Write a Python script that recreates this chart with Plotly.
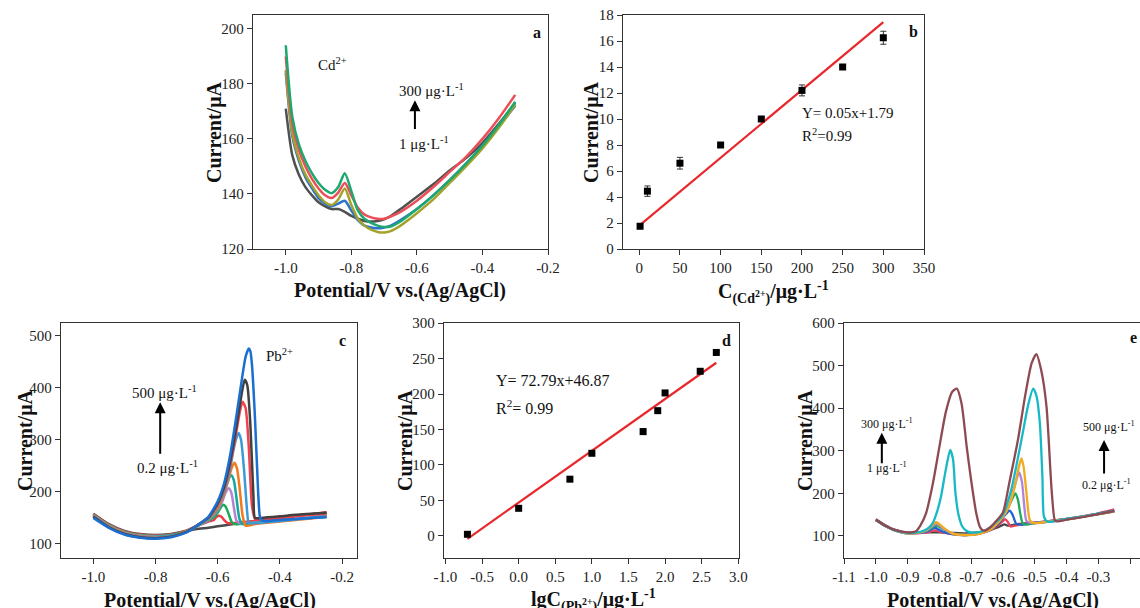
import plotly.graph_objects as go

W, H = 1140, 608
FONT = "Liberation Serif, Times New Roman, serif"

# ---------- panel a: Cd2+ curves ----------
a_x = [-1.0, -0.98, -0.96, -0.94, -0.92, -0.90, -0.88, -0.86, -0.84, -0.82, -0.80, -0.78, -0.76,
       -0.74, -0.72, -0.70, -0.68, -0.65, -0.60, -0.55, -0.50, -0.45, -0.40, -0.35, -0.30]
a_grey = [171, 154, 147, 142.5, 139.5, 137, 135.5, 134.5, 134.5, 133.5, 132, 131, 130.2,
          130, 130.2, 130.8, 132, 134.5, 139, 143.5, 148.5, 153, 158.5, 165.5, 173]
a_blue = [184, 161, 152, 146, 142, 138.5, 136.5, 135.5, 136.5, 137.5, 134, 130.5, 128.5,
          127.8, 127.5, 127.8, 128.5, 130.5, 134.5, 139.5, 145, 151, 157.5, 164.5, 172]
a_olive = [185, 162, 153, 147, 143, 139.5, 137, 136, 138, 142, 136, 131, 128.5,
           127, 126.2, 126, 126.5, 128.5, 133, 138, 144, 150, 156.5, 164, 172.5]
a_red = [190, 165.5, 156, 150, 145.5, 142, 139.5, 138.5, 140.5, 144, 139.5, 135, 132.5,
         131.5, 131, 131, 131.8, 133.5, 137.5, 142.5, 148, 153.5, 160, 167.5, 176]
a_green = [194, 168, 158, 152, 147.5, 144, 141.5, 140.3, 142.5, 147.5, 141, 134, 131,
           129.5, 128.5, 128, 128.2, 130, 134.5, 139.5, 145, 151, 157.5, 165, 173.5]
a_series = [a_grey, a_blue, a_olive, a_red, a_green]
a_colors = ["#505050", "#2a74cc", "#a3a32c", "#ea4f58", "#1ca86e"]

# ---------- panel b: Cd2+ calibration ----------
b_conc = [1, 10, 50, 100, 150, 200, 250, 300]
b_curr = [1.75, 4.45, 6.6, 8.0, 10.0, 12.2, 14.0, 16.25]
b_err = [0.1, 0.4, 0.45, 0.1, 0.1, 0.42, 0.1, 0.5]
b_fit_x = [0, 300]
b_fit_y = [1.8, 17.45]

# ---------- panel c: Pb2+ curves ----------
c_left_x = [-1.0, -0.95, -0.9, -0.85, -0.8, -0.75, -0.7, -0.66, -0.63]
c_left_y = [
    [158, 138, 125, 119, 117, 119, 125, 129, 131],
    [157, 137, 124, 118, 116, 118, 126, 136, 143],
    [156, 136, 123, 117, 115, 117, 125, 136, 145],
    [155, 135, 122, 116, 114, 116, 124, 136, 146],
    [154, 134, 121, 115, 113, 116, 124, 137, 147],
    [154, 134, 121, 115, 113, 115, 124, 137, 148],
    [153, 133, 120, 114, 112, 115, 123, 137, 149],
    [152, 132, 119, 113, 111, 114, 123, 138, 150],
    [152, 132, 119, 113, 111, 114, 123, 138, 151],
    [150, 131, 118, 112, 110, 113, 122, 138, 152],
]
c_right_x = [
    [-0.6, -0.55, -0.5, -0.45, -0.4, -0.35, -0.3, -0.25],
    [-0.615, -0.605, -0.597, -0.588, -0.578, -0.568, -0.5, -0.4, -0.3, -0.25],
    [-0.61, -0.6, -0.59, -0.583, -0.575, -0.565, -0.555, -0.545, -0.5, -0.4, -0.3, -0.25],
    [-0.6, -0.585, -0.575, -0.564, -0.556, -0.548, -0.54, -0.53, -0.48, -0.4, -0.3, -0.25],
    [-0.6, -0.585, -0.57, -0.562, -0.556, -0.548, -0.54, -0.53, -0.52, -0.48, -0.4, -0.3, -0.25],
    [-0.6, -0.58, -0.565, -0.555, -0.546, -0.538, -0.53, -0.52, -0.51, -0.48, -0.4, -0.3, -0.25],
    [-0.6, -0.58, -0.56, -0.55, -0.54, -0.533, -0.525, -0.515, -0.505, -0.5, -0.48, -0.4, -0.35, -0.3, -0.25],
    [-0.6, -0.58, -0.56, -0.54, -0.53, -0.52, -0.51, -0.5, -0.49, -0.48, -0.46, -0.4, -0.35, -0.3, -0.25],
    [-0.6, -0.58, -0.56, -0.54, -0.53, -0.52, -0.513, -0.505, -0.495, -0.485, -0.48, -0.46, -0.4, -0.35, -0.3, -0.25],
    [-0.6, -0.58, -0.56, -0.54, -0.52, -0.51, -0.5, -0.495, -0.49, -0.48, -0.47, -0.465, -0.46, -0.44, -0.4, -0.35, -0.3, -0.25],
]
c_right_y = [
    [134, 138, 142, 146, 150, 154, 157, 160],
    [145, 151, 154, 152, 145, 140, 143, 149, 157, 161],
    [152, 160, 170, 175, 172, 158, 142, 138, 140, 145, 151, 154],
    [165, 182, 198, 207, 198, 170, 145, 140, 141, 145, 151, 154],
    [168, 188, 215, 228, 232, 222, 190, 148, 138, 140, 145, 150, 153],
    [170, 195, 225, 246, 256, 245, 210, 155, 135, 138, 143, 149, 152],
    [174, 200, 245, 278, 303, 313, 300, 240, 160, 140, 140, 144, 147, 150, 152],
    [176, 205, 252, 315, 350, 373, 360, 285, 175, 148, 148, 151, 154, 156, 158],
    [178, 208, 258, 325, 362, 398, 415, 405, 330, 190, 150, 150, 153, 156, 158, 160],
    [182, 215, 270, 345, 425, 460, 475, 470, 445, 340, 200, 155, 146, 144, 146, 148, 150, 151],
]
c_colors = ["#4a4a4a", "#ee3c46", "#1caa5c", "#b283d4", "#12a89e", "#f27a1e",
            "#3c9ad8", "#f0424c", "#404040", "#1a6fd0"]

# ---------- panel d: Pb2+ calibration ----------
d_lgc = [-0.7, 0.0, 0.7, 1.0, 1.7, 1.9, 2.0, 2.48, 2.7]
d_curr = [2.4, 39, 80, 116.5, 147, 176.5, 201.5, 232, 258.5]
d_err = [2, 2, 2, 2, 4, 2, 2, 2, 2]
d_fit_x = [-0.7, 2.7]
d_fit_y = [-4, 244]

# ---------- panel e: simultaneous Cd2+ / Pb2+ ----------
e_x = [
    [-1.0, -0.97, -0.94, -0.9, -0.87, -0.84, -0.8, -0.76, -0.72, -0.68, -0.64, -0.62, -0.605, -0.595,
     -0.585, -0.55, -0.5, -0.45, -0.4, -0.35, -0.3, -0.25],
    [-1.0, -0.97, -0.94, -0.9, -0.87, -0.84, -0.815, -0.79, -0.76, -0.72, -0.68, -0.64, -0.61, -0.593,
     -0.585, -0.576, -0.55, -0.5, -0.45, -0.4, -0.35, -0.3, -0.25],
    [-1.0, -0.97, -0.94, -0.9, -0.87, -0.84, -0.815, -0.79, -0.76, -0.72, -0.68, -0.64, -0.61, -0.595,
     -0.579, -0.57, -0.558, -0.54, -0.5, -0.45, -0.4, -0.35, -0.3, -0.25],
    [-1.0, -0.97, -0.94, -0.9, -0.87, -0.84, -0.81, -0.785, -0.76, -0.72, -0.68, -0.64, -0.62, -0.6,
     -0.58, -0.561, -0.553, -0.545, -0.537, -0.52, -0.5, -0.45, -0.4, -0.35, -0.3, -0.25],
    [-1.0, -0.97, -0.94, -0.9, -0.87, -0.84, -0.81, -0.785, -0.76, -0.72, -0.68, -0.64, -0.62, -0.6,
     -0.58, -0.565, -0.549, -0.54, -0.533, -0.526, -0.51, -0.45, -0.4, -0.35, -0.3, -0.25],
    [-1.0, -0.97, -0.94, -0.9, -0.87, -0.84, -0.81, -0.785, -0.76, -0.72, -0.68, -0.64, -0.62, -0.6,
     -0.58, -0.565, -0.55, -0.542, -0.535, -0.526, -0.516, -0.505, -0.45, -0.4, -0.35, -0.3, -0.25],
    [-1.0, -0.97, -0.94, -0.9, -0.87, -0.85, -0.835, -0.821, -0.808, -0.795, -0.78, -0.766, -0.757,
     -0.75, -0.74, -0.728, -0.715, -0.7, -0.68, -0.66, -0.64, -0.62, -0.6, -0.574, -0.542, -0.52,
     -0.505, -0.495, -0.484, -0.476, -0.471, -0.46, -0.4, -0.35, -0.3, -0.25],
    [-1.0, -0.97, -0.94, -0.9, -0.875, -0.86, -0.842, -0.82, -0.8, -0.78, -0.76, -0.745, -0.73,
     -0.714, -0.7, -0.684, -0.672, -0.66, -0.637, -0.62, -0.6, -0.58, -0.553, -0.53, -0.51, -0.495,
     -0.48, -0.463, -0.447, -0.437, -0.43, -0.4, -0.35, -0.3, -0.25],
]
e_y = [
    [139, 125, 114, 107, 107, 108, 108, 107, 106, 108, 114, 119, 124, 127,
     124, 128, 131, 135, 140, 145, 151, 158],
    [138, 124, 113, 107, 106, 108, 113, 108, 104, 102, 104, 113, 128, 139,
     133, 122, 126, 131, 135, 140, 146, 153, 162],
    [137, 123, 113, 106, 107, 110, 119, 110, 104, 102, 105, 114, 132, 148,
     159, 150, 128, 126, 130, 134, 139, 145, 152, 159],
    [137, 123, 113, 106, 107, 112, 124, 115, 106, 102, 105, 115, 128, 145,
     172, 200, 185, 150, 128, 127, 130, 134, 139, 145, 151, 158],
    [137, 123, 113, 106, 107, 113, 128, 116, 106, 102, 105, 115, 128, 145,
     172, 212, 249, 225, 170, 135, 130, 134, 139, 145, 151, 157],
    [137, 123, 113, 106, 107, 114, 132, 118, 106, 102, 104, 115, 128, 145,
     172, 210, 262, 282, 262, 200, 138, 130, 134, 139, 145, 151, 157],
    [137, 123, 113, 107, 108, 112, 118, 130, 155, 192, 255, 302, 280,
     205, 150, 122, 112, 108, 108, 112, 120, 133, 150, 208, 325, 410,
     446, 430, 365, 240, 145, 133, 140, 145, 152, 158],
    [138, 124, 114, 108, 110, 124, 153, 225, 309, 390, 438, 446, 410,
     309, 230, 153, 120, 112, 122, 136, 155, 225, 325, 430, 505, 527,
     490, 403, 208, 137, 134, 138, 144, 151, 158],
]
e_colors = ["#454545", "#f2405e", "#2262d2", "#22a862", "#b183da", "#f2aa1e", "#16b9c6", "#8e4a52"]

# ---------- tick labels ----------
pot_ticks_ac = [-1.0, -0.8, -0.6, -0.4, -0.2]
pot_labels_ac = ["-1.0", "-0.8", "-0.6", "-0.4", "-0.2"]
pot_ticks_e = [-1.1, -1.0, -0.9, -0.8, -0.7, -0.6, -0.5, -0.4, -0.3, -0.2]
pot_labels_e = ["-1.1", "-1.0", "-0.9", "-0.8", "-0.7", "-0.6", "-0.5", "-0.4", "-0.3", "-0.2"]
lgc_ticks = [-1.0, -0.5, 0.0, 0.5, 1.0, 1.5, 2.0, 2.5, 3.0]
lgc_labels = ["-1.0", "-0.5", "0.0", "0.5", "1.0", "1.5", "2.0", "2.5", "3.0"]

fig = go.Figure()

for ys, col in zip(a_series, a_colors):
    fig.add_trace(go.Scatter(x=a_x, y=ys, mode="lines", xaxis="x", yaxis="y",
                             line=dict(color=col, width=2.5, shape="spline", smoothing=0.7)))

fig.add_trace(go.Scatter(x=b_fit_x, y=b_fit_y, mode="lines", xaxis="x2", yaxis="y2",
                         line=dict(color="#e8282c", width=2.2)))
fig.add_trace(go.Scatter(x=b_conc, y=b_curr, mode="markers", xaxis="x2", yaxis="y2",
                         marker=dict(symbol="square", size=7, color="black"),
                         error_y=dict(type="data", array=b_err, color="#333", thickness=1, width=3)))

for ly, rx, ry, col in zip(c_left_y, c_right_x, c_right_y, c_colors):
    fig.add_trace(go.Scatter(x=c_left_x + rx, y=ly + ry, mode="lines", xaxis="x3", yaxis="y3",
                             line=dict(color=col, width=2.5, shape="spline", smoothing=0.6)))

fig.add_trace(go.Scatter(x=d_fit_x, y=d_fit_y, mode="lines", xaxis="x4", yaxis="y4",
                         line=dict(color="#e8282c", width=2.2)))
fig.add_trace(go.Scatter(x=d_lgc, y=d_curr, mode="markers", xaxis="x4", yaxis="y4",
                         marker=dict(symbol="square", size=7, color="black"),
                         error_y=dict(type="data", array=d_err, color="#333", thickness=1, width=3)))

for xs, ys, col in zip(e_x, e_y, e_colors):
    fig.add_trace(go.Scatter(x=xs, y=ys, mode="lines", xaxis="x5", yaxis="y5",
                             line=dict(color=col, width=2.3, shape="spline", smoothing=0.6)))


def dx(a, b):
    return [a / W, b / W]


def dy(top, bottom):
    return [1 - bottom / H, 1 - top / H]


axis_style = dict(showline=True, linecolor="#333", linewidth=1.4, mirror=True, ticks="outside",
                  ticklen=5, tickwidth=1.2, tickcolor="#333", showgrid=False, zeroline=False,
                  automargin=False, tickfont=dict(family=FONT, size=15, color="#222"))

fig.update_layout(
    width=W, height=H, margin=dict(l=0, r=0, t=0, b=0, pad=0, autoexpand=False),
    paper_bgcolor="white", plot_bgcolor="white", showlegend=False,
    font=dict(family=FONT),
    xaxis=dict(axis_style, domain=dx(253, 548), range=[-1.1, -0.2], anchor="y",
               tickvals=pot_ticks_ac, ticktext=pot_labels_ac),
    yaxis=dict(axis_style, domain=dy(15, 249), range=[120, 205], anchor="x", dtick=20),
    xaxis2=dict(axis_style, domain=dx(623, 924), range=[-20, 350], anchor="y2", dtick=50),
    yaxis2=dict(axis_style, domain=dy(15, 249), range=[0, 18], anchor="x2", dtick=2),
    xaxis3=dict(axis_style, domain=dx(61, 357), range=[-1.104, -0.152], anchor="y3",
                tickvals=pot_ticks_ac, ticktext=pot_labels_ac),
    yaxis3=dict(axis_style, domain=dy(323, 558), range=[73, 524], anchor="x3", dtick=100),
    xaxis4=dict(axis_style, domain=dx(444, 739), range=[-1.02, 3.01], anchor="y4",
                tickvals=lgc_ticks, ticktext=lgc_labels),
    yaxis4=dict(axis_style, domain=dy(323, 558), range=[-31, 300], anchor="x4", dtick=50),
    xaxis5=dict(axis_style, domain=dx(844, 1140), range=[-1.1, -0.169], anchor="y5",
                tickvals=pot_ticks_e, ticktext=pot_labels_e),
    yaxis5=dict(axis_style, domain=dy(323, 558), range=[48, 600], anchor="x5", dtick=100),
)

ann = []


def text(x, y, t, size=15, ref="", bold=False, xanchor="center", angle=0):
    paper = ref == "p"
    ann.append(dict(x=x, y=y, text="<b>%s</b>" % t if bold else t, showarrow=False,
                    xref="paper" if paper else "x" + ref, yref="paper" if paper else "y" + ref,
                    xanchor=xanchor, yanchor="middle", textangle=angle,
                    font=dict(family=FONT, size=size, color="#111")))


def arrow(x, y0, y1, ref=""):
    ann.append(dict(x=x, y=y1, ax=x, ay=y0, xref="x" + ref, yref="y" + ref,
                    axref="x" + ref, ayref="y" + ref, showarrow=True, text="",
                    arrowhead=2, arrowsize=1.1, arrowwidth=2, arrowcolor="black"))


# axis titles
pot = "Potential/V vs.(Ag/AgCl)"
cur = "Current/μA"
for px, py, t in [(400, 290, pot), (210, 600, pot), (993, 600, pot),
                  (773, 293, "C<sub>(Cd<sup>2+</sup>)</sub>/μg·L<sup>-1</sup>"),
                  (593, 600, "lgC<sub>(Pb<sup>2+</sup>)</sub>/μg·L<sup>-1</sup>")]:
    text(px / W, 1 - py / H, t, size=20, ref="p", bold=True)
for px, py in [(215, 132), (592, 132), (25, 440), (405, 440), (805, 440)]:
    text(px / W, 1 - py / H, cur, size=20, ref="p", bold=True, angle=-90)

# panel a
text(-0.856, 187.3, "Cd<sup>2+</sup>")
text(-0.554, 177.6, "300 μg·L<sup>-1</sup>")
text(-0.579, 158.4, "1 μg·L<sup>-1</sup>")
arrow(-0.606, 163, 174)
text(-0.234, 198.5, "a", size=16, bold=True)
# panel b
text(197.8, 10.45, "Y= 0.05x+1.79", ref="2", xanchor="left")
text(197.8, 8.75, "R<sup>2</sup>=0.99", ref="2", xanchor="left")
text(336.6, 16.7, "b", size=16, ref="2", bold=True)
# panel c
text(-0.402, 461.7, "Pb<sup>2+</sup>", ref="3")
text(-0.772, 391, "500 μg·L<sup>-1</sup>", ref="3")
text(-0.762, 247, "0.2 μg·L<sup>-1</sup>", ref="3")
arrow(-0.785, 270, 372, ref="3")
text(-0.2, 490, "c", size=16, ref="3", bold=True)
# panel d
text(-0.331, 219.7, "Y= 72.79x+46.87", size=16, ref="4", xanchor="left")
text(-0.331, 181.7, "R<sup>2</sup>= 0.99", size=16, ref="4", xanchor="left")
text(2.836, 276, "d", size=16, ref="4", bold=True)
# panel e
text(-0.964, 365, "300 μg·L<sup>-1</sup>", size=12, ref="5")
text(-0.964, 260, "1 μg·L<sup>-1</sup>", size=12, ref="5")
arrow(-0.981, 267, 342, ref="5")
text(-0.266, 356, "500 μg·L<sup>-1</sup>", size=12, ref="5")
text(-0.273, 220, "0.2 μg·L<sup>-1</sup>", size=12, ref="5")
arrow(-0.282, 243, 325, ref="5")
text(-0.19, 565, "e", size=16, ref="5", bold=True)

fig.update_layout(annotations=ann)
fig.write_html("out.html", config={"displayModeBar": False},
               post_script="document.body.style.margin='0';")
